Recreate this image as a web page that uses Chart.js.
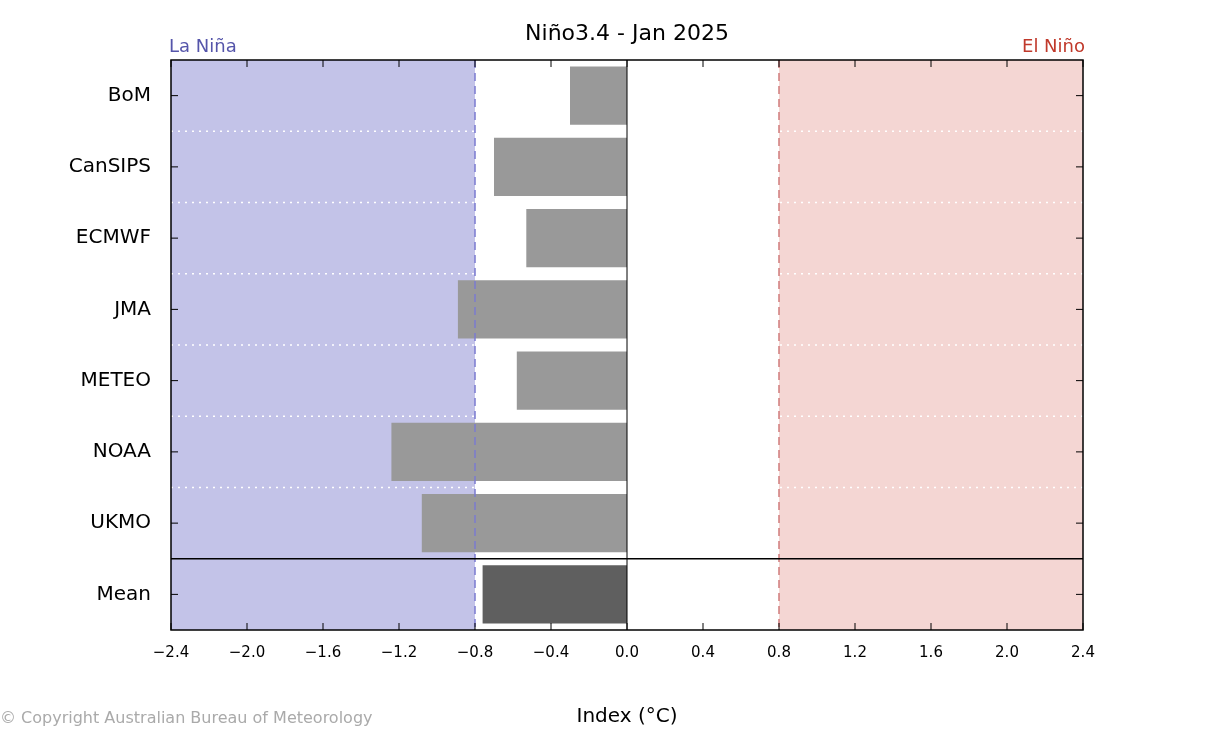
<!DOCTYPE html>
<html>
<head>
<meta charset="utf-8">
<script src="https://cdn.jsdelivr.net/npm/chart.js@4/dist/chart.umd.min.js"></script>
<style>
  body { margin: 0; background: #fff; }
  #wrap { width: 1219px; height: 733px; }
</style>
</head>
<body>
<div id="wrap"><canvas id="nino-chart"></canvas></div>
<script>
const models = ["BoM", "CanSIPS", "ECMWF", "JMA", "METEO", "NOAA", "UKMO", "Mean"];
const anomalies = [-0.30, -0.70, -0.53, -0.89, -0.58, -1.24, -1.08, -0.76];
const barColors = ["#999999", "#999999", "#999999", "#999999", "#999999", "#999999", "#999999", "#5f5f5f"];
const xTicks = [-2.4, -2.0, -1.6, -1.2, -0.8, -0.4, 0.0, 0.4, 0.8, 1.2, 1.6, 2.0, 2.4];
const threshold = 0.8;

const font = "DejaVu Sans";

// shaded regions, threshold lines, row separators, extra labels
const decorations = {
  id: "decorations",
  beforeDatasetsDraw(chart) {
    const { ctx, chartArea: a, scales: { x } } = chart;
    ctx.save();
    ctx.fillStyle = "#c3c3e8";
    ctx.fillRect(a.left, a.top, x.getPixelForValue(-threshold) - a.left, a.bottom - a.top);
    ctx.fillStyle = "#f4d6d3";
    const r = x.getPixelForValue(threshold);
    ctx.fillRect(r, a.top, a.right - r, a.bottom - a.top);
    ctx.restore();
  },
  afterDatasetsDraw(chart) {
    const { ctx, chartArea: a, scales: { x, y } } = chart;
    ctx.save();
    // threshold dashed lines
    ctx.lineWidth = 1.5;
    ctx.setLineDash([8, 5]);
    ctx.strokeStyle = "#7b7bd0";
    let px = x.getPixelForValue(-threshold);
    ctx.beginPath(); ctx.moveTo(px, a.top); ctx.lineTo(px, a.bottom); ctx.stroke();
    ctx.strokeStyle = "#d07b7b";
    px = x.getPixelForValue(threshold);
    ctx.beginPath(); ctx.moveTo(px, a.top); ctx.lineTo(px, a.bottom); ctx.stroke();
    // dotted row separators
    ctx.setLineDash([2, 5]);
    ctx.strokeStyle = "#ffffff";
    ctx.lineWidth = 1.5;
    for (let i = 0; i < models.length - 2; i++) {
      const yy = (y.getPixelForValue(i) + y.getPixelForValue(i + 1)) / 2;
      ctx.beginPath(); ctx.moveTo(a.left, yy); ctx.lineTo(a.right, yy); ctx.stroke();
    }
    ctx.setLineDash([]);
    ctx.strokeStyle = "#000";
    ctx.lineWidth = 1.5;
    const sep = (y.getPixelForValue(models.length - 2) + y.getPixelForValue(models.length - 1)) / 2;
    ctx.beginPath(); ctx.moveTo(a.left, sep); ctx.lineTo(a.right, sep); ctx.stroke();
    // zero line
    ctx.lineWidth = 1;
    px = x.getPixelForValue(0);
    ctx.beginPath(); ctx.moveTo(px, a.top); ctx.lineTo(px, a.bottom); ctx.stroke();
    // frame
    ctx.lineWidth = 1.5;
    ctx.strokeRect(a.left, a.top, a.right - a.left, a.bottom - a.top);
    // inner ticks
    ctx.lineWidth = 1;
    xTicks.forEach(v => {
      const p = x.getPixelForValue(v);
      ctx.beginPath();
      ctx.moveTo(p, a.bottom); ctx.lineTo(p, a.bottom - 7);
      ctx.moveTo(p, a.top); ctx.lineTo(p, a.top + 7);
      ctx.stroke();
    });
    models.forEach((m, i) => {
      const p = y.getPixelForValue(i);
      ctx.beginPath();
      ctx.moveTo(a.left, p); ctx.lineTo(a.left + 7, p);
      ctx.moveTo(a.right, p); ctx.lineTo(a.right - 7, p);
      ctx.stroke();
    });
    // texts
    ctx.textBaseline = "alphabetic";
    ctx.fillStyle = "#000";
    ctx.font = "22px " + font;
    ctx.textAlign = "center";
    ctx.fillText("Niño3.4 - Jan 2025", (a.left + a.right) / 2, 40);
    ctx.font = "18px " + font;
    ctx.textAlign = "left";
    ctx.fillStyle = "#5555aa";
    ctx.fillText("La Niña", a.left - 2, 52);
    ctx.textAlign = "right";
    ctx.fillStyle = "#c0392b";
    ctx.fillText("El Niño", a.right + 2, 52);
    ctx.textAlign = "left";
    ctx.fillStyle = "#aaaaaa";
    ctx.font = "16px " + font;
    ctx.fillText("© Copyright Australian Bureau of Meteorology", 0, 723);
    ctx.restore();
  }
};

new Chart(document.getElementById("nino-chart").getContext("2d"), {
  type: "bar",
  data: {
    labels: models,
    datasets: [{
      label: "Niño3.4 index",
      data: anomalies,
      backgroundColor: barColors,
      borderWidth: 0,
      barPercentage: 0.82,
      categoryPercentage: 1
    }]
  },
  options: {
    indexAxis: "y",
    responsive: true,
    maintainAspectRatio: false,
    animation: false,
    layout: { padding: { top: 60, right: 136, left: 0, bottom: 0 } },
    plugins: { legend: { display: false }, tooltip: { enabled: false } },
    scales: {
      x: {
        type: "linear",
        min: -2.4, max: 2.4,
        afterBuildTicks: s => { s.ticks = xTicks.map(v => ({ value: v })); },
        afterFit: s => { s.height = 103; },
        grid: { display: false },
        border: { display: false },
        ticks: {
          color: "#000",
          font: { family: font, size: 15 },
          padding: 6,
          callback: v => (v < 0 ? "\u2212" + Math.abs(v).toFixed(1) : v.toFixed(1))
        },
        title: { display: true, text: "Index (°C)", color: "#000", font: { family: font, size: 20 }, padding: { top: 6 } }
      },
      y: {
        afterFit: s => { s.width = 171; },
        grid: { display: false },
        border: { display: false },
        ticks: { color: "#000", font: { family: font, size: 20 }, padding: 12 }
      }
    }
  },
  plugins: [decorations]
});
</script>
</body>
</html>
